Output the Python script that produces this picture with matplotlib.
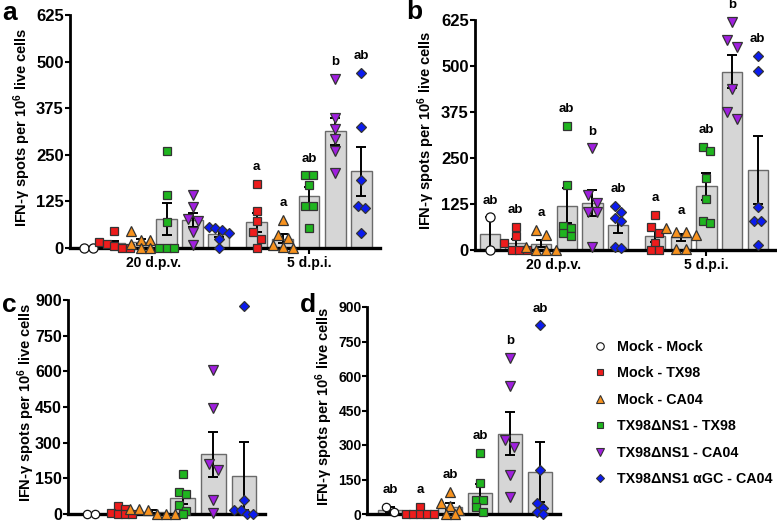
import numpy as np
import matplotlib
matplotlib.use("Agg")
import matplotlib.pyplot as plt
from matplotlib.lines import Line2D
from matplotlib import transforms

plt.rcParams['font.family'] = ['Liberation Sans', 'DejaVu Sans']
plt.rcParams['font.weight'] = 'bold'
plt.rcParams['mathtext.fontset'] = 'custom'
plt.rcParams['mathtext.rm'] = 'Liberation Sans:bold'
plt.rcParams['mathtext.it'] = 'Liberation Sans:bold:italic'
plt.rcParams['mathtext.bf'] = 'Liberation Sans:bold'

# ---------------- data ----------------
group_names = ["Mock - Mock", "Mock - TX98", "Mock - CA04",
               "TX98\u0394NS1 - TX98", "TX98\u0394NS1 - CA04",
               "TX98\u0394NS1 \u03b1GC - CA04"]
time_labels = ["20 d.p.v.", "5 d.p.i."]

# panel a (per group, individual animals)
a_dpv = [[0, 0], [45, 15, 10, 5, 0, 0], [45, 22, 22, 10, 0, 0],
         [260, 142, 71, 0, 0, 0], [142, 109, 77, 73, 44, 7], [55, 53, 48, 40, 25, 0]]
a_dpi = [None, [173, 99, 73, 44, 25, 0], [75, 35, 27, 9, 4, 0],
         [195, 195, 170, 113, 113, 53], [454, 350, 320, 293, 260, 200],
         [470, 324, 182, 113, 108, 40]]
a_letters_dpv = [None, None, None, None, None, None]
a_letters_dpi = [None, "a", "a", "ab", "b", "ab"]

# panel b
b_dpv = [[89, 0], [63, 39, 18, 0, 0, 0], [54, 40, 8, 0, 0, 0],
         [337, 177, 65, 61, 45, 38], [276, 149, 127, 102, 102, 9], [120, 104, 86, 80, 9, 5]]
b_dpi = [None, [95, 63, 47, 20, 0, 0], [61, 48, 48, 41, 4, 4],
         [281, 269, 197, 139, 79, 74], [620, 570, 552, 437, 376, 355],
         [527, 487, 116, 80, 80, 14]]
b_letters_dpv = ["ab", "ab", "a", "ab", "b", "ab"]
b_letters_dpi = [None, "a", "a", "ab", "b", "ab"]

# panel c
c_vals = [[0, 0], [35, 21, 5, 0, 0, 0], [22, 22, 18, 0, 0, 0],
          [168, 94, 83, 39, 14, 0], [605, 445, 212, 185, 57, 4], [875, 60, 18, 18, 0, 0]]
c_letters = [None] * 6

# panel d
d_vals = [[32, 7], [32, 0, 0, 0, 0, 0], [95, 46, 35, 17, 0, 0],
          [265, 133, 63, 59, 31, 7], [679, 557, 321, 293, 171, 72], [821, 193, 46, 28, 10, 0]]
d_letters = ["ab", "a", "ab", "ab", "b", "ab"]

yticks_ab = [0, 125, 250, 375, 500, 625]
yticks_cd = [0, 150, 300, 450, 600, 750, 900]

# ---------------- style ----------------
markers = ['o', 's', '^', 's', 'v', 'D']
colors = ['#FFFFFF', '#EE1C1C', '#F7921E', '#1FB51F', '#A01FDF', '#0B1BEF']
msize_big = [6.6, 5.8, 7.4, 5.8, 7.4, 5.2]
msize_small = [6.0, 5.3, 6.8, 5.3, 6.8, 4.8]

W, H = 777, 523
fig = plt.figure(figsize=(W / 100, H / 100), dpi=100)


def make_axes(left, top, right, bottom):
    return fig.add_axes([left / W, 1 - bottom / H, (right - left) / W, (bottom - top) / H])


def swarm(vals, ypx_per_unit, xpx_per_unit, dpx):
    vals = np.asarray(vals, float)
    order = np.argsort(-vals, kind='stable')
    offs = np.zeros(len(vals))
    rows = []
    for i in order:
        ypx = vals[i] * ypx_per_unit
        if rows and rows[-1][0] - ypx < dpx * 0.9:
            rows[-1][1].append(i)
        else:
            rows.append([ypx, [i]])
    for _, idx in rows:
        n = len(idx)
        for k, i in enumerate(idx):
            offs[i] = (k - (n - 1) / 2) * dpx * 0.95 / xpx_per_unit
    return offs


def draw_panel(ax, datasets, positions, letters, ymax, yticks, xlim, sizes, rect_px,
               label_right, tick_fs, tick_pad):
    ax.set_xlim(*xlim)
    ax.set_ylim(0, ymax)
    wpx = rect_px[2] - rect_px[0]
    hpx = rect_px[3] - rect_px[1]
    xpu = wpx / (xlim[1] - xlim[0])
    ypu = hpx / ymax
    for gi, (vals, x, let) in enumerate(zip(datasets, positions, letters)):
        if vals is None:
            continue
        g = gi % 6
        v = np.asarray(vals, float)
        mean = v.mean()
        sem = v.std(ddof=1) / np.sqrt(len(v))
        ax.bar(x, mean, width=0.8, color='#D6D6D6', edgecolor='#6A6A6A', lw=1.0, zorder=1)
        ax.errorbar(x, mean, yerr=sem, fmt='none', ecolor='black', elinewidth=1.4,
                    capsize=3.8, capthick=1.4, zorder=2)
        dpx = sizes[g] / 0.72
        offs = swarm(v, ypu, xpu, dpx)
        ax.plot(x + offs, v, ls='none', marker=markers[g], ms=sizes[g],
                mfc=colors[g], mec='#111111' if g == 0 else '#333333', mew=0.9,
                clip_on=False, zorder=4)
        if let:
            ax.annotate(let, (x, v.max()), xytext=(0, 12), textcoords='offset points',
                        ha='center', va='center', fontsize=9.5, fontweight='bold',
                        annotation_clip=False)
    for s in ['top', 'right']:
        ax.spines[s].set_visible(False)
    ax.spines['left'].set_linewidth(2.0)
    ax.spines['bottom'].set_linewidth(2.4)
    ax.set_yticks(yticks)
    ax.tick_params(axis='y', direction='out', length=3.5, width=1.5, labelsize=tick_fs,
                   pad=tick_pad)
    ax.tick_params(axis='x', direction='out', length=4, width=1.5, labelsize=10, pad=2)
    for lab in ax.get_yticklabels() + ax.get_xticklabels():
        lab.set_fontweight('bold')
    ax.set_ylabel("IFN-\u03b3 spots per 10$^{6}$ live cells", fontsize=10.5, fontweight='bold')
    trans = transforms.blended_transform_factory(fig.transFigure, ax.transAxes)
    ax.yaxis.set_label_coords(label_right / W, 0.52, transform=trans)


# panel a
rect_a = (70, 15, 380, 248)
ax_a = make_axes(*rect_a)
pos_dpv = list(range(6))
pos_dpi = [None] + [5.45 + i for i in range(1, 6)]
draw_panel(ax_a, a_dpv + a_dpi, pos_dpv + pos_dpi, a_letters_dpv + a_letters_dpi,
           625, yticks_ab, (-0.7, 11.17), msize_big, rect_a, 33, 12, 1.0)
ax_a.set_xticks([2.5, 8.45])
ax_a.set_xticklabels(time_labels)

# panel b
rect_b = (475, 20, 777, 250)
ax_b = make_axes(*rect_b)
draw_panel(ax_b, b_dpv + b_dpi, pos_dpv + pos_dpi, b_letters_dpv + b_letters_dpi,
           625, yticks_ab, (-0.58, 11.2), msize_big, rect_b, 437, 12, 1.0)
ax_b.set_xticks([2.5, 8.45])
ax_b.set_xticklabels(time_labels)

# panel c
rect_c = (68, 300, 265, 514)
ax_c = make_axes(*rect_c)
draw_panel(ax_c, c_vals, pos_dpv, c_letters, 900, yticks_cd, (-0.75, 5.69), msize_small,
           rect_c, 37, 11.5, 1.0)
ax_c.set_xticks([])

# panel d
rect_d = (367, 307, 560, 514)
ax_d = make_axes(*rect_d)
draw_panel(ax_d, d_vals, pos_dpv, d_letters, 900, yticks_cd, (-0.77, 5.67), msize_small,
           rect_d, 335, 10, 0.3)
ax_d.set_xticks([])

# panel letters
for txt, x, y in [("a", 2, 20), ("b", 406, 19), ("c", 2, 312), ("d", 300, 312)]:
    fig.text(x / W, 1 - y / H, txt, fontsize=19, fontweight='bold', ha='left', va='baseline')

# legend
handles = [Line2D([], [], ls='none', marker=markers[i], ms=msize_small[i] * 0.9,
                  mfc=colors[i], mec='#111111' if i == 0 else '#333333', mew=0.8)
           for i in range(6)]
leg = fig.legend(handles, group_names, loc='upper left', bbox_to_anchor=(593 / W, 1 - 340 / H),
                 frameon=False, prop={'size': 10.3, 'weight': 'bold'}, handlelength=1.0,
                 handletextpad=0.65, labelspacing=0.87, borderaxespad=0, borderpad=0)

fig.savefig("out.png", dpi=100)
